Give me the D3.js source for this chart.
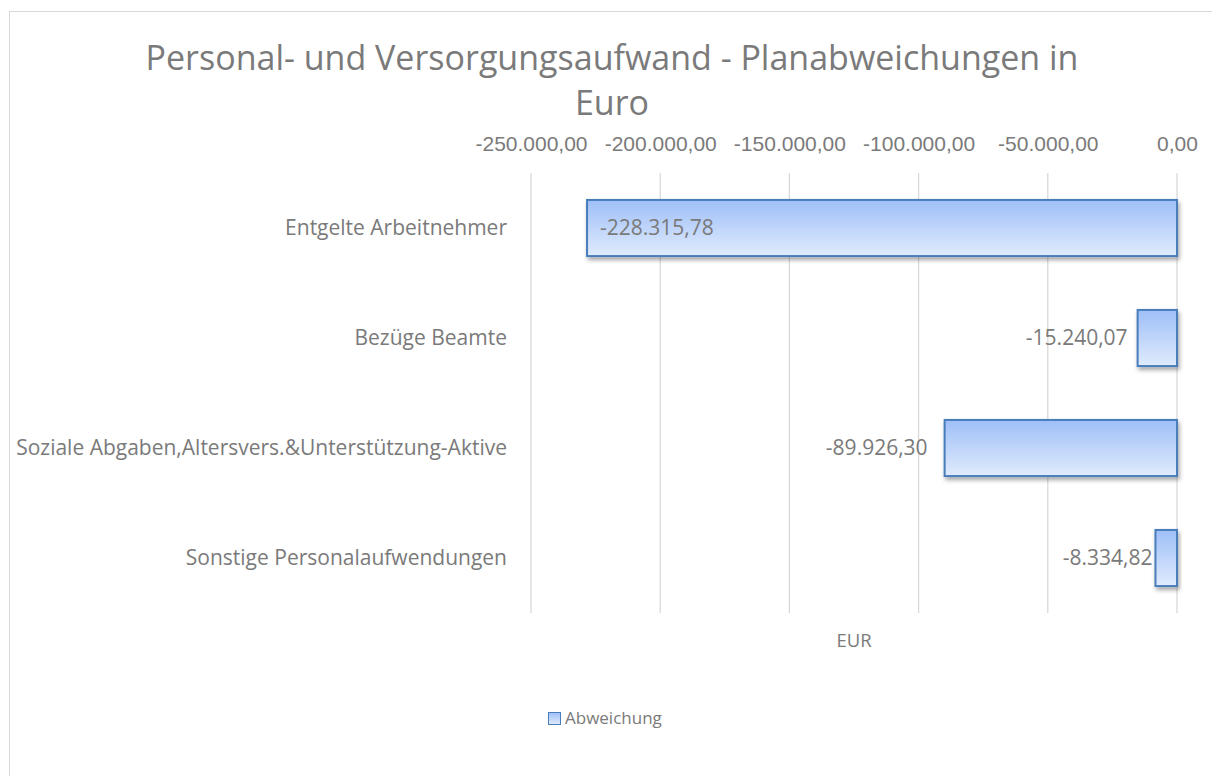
<!DOCTYPE html>
<html>
  <head>
    <meta charset="utf-8">
    <title>Personal- und Versorgungsaufwand</title>
    <style>
      body{ margin:0; background:#fff; }
      svg{ display:block; font-family: "Open Sans", Lato, sans-serif; }
    </style>
  </head>
  <body>
    <svg id="chart" width="1212" height="776"></svg>
  </body>
  <script src="https://d3js.org/d3.v7.min.js"></script>
  <script>
    var categories = [
      "Entgelte Arbeitnehmer",
      "Bezüge Beamte",
      "Soziale Abgaben,Altersvers.&Unterstützung-Aktive",
      "Sonstige Personalaufwendungen"
    ]
    var abweichung = [-228315.78, -15240.07, -89926.30, -8334.82]
    var tickValues = [-250000, -200000, -150000, -100000, -50000, 0]
    var seriesName = "Abweichung"
    var axisTitle = "EUR"
    var titleLines = ["Personal- und Versorgungsaufwand - Planabweichungen in", "Euro"]

    var fmt = d3.formatLocale({decimal: ",", thousands: ".", grouping: [3], currency: ["", " €"], minus: "-"}).format(",.2f")
    var grey = "#7a7a7a"

    var svg = d3.select("#chart")

    // chart frame
    svg.append("rect").attr("x", 9.5).attr("y", 11.5).attr("width", 1220).attr("height", 800)
      .attr("fill", "#fff").attr("stroke", "#d9d9d9").attr("stroke-width", 1)

    var defs = svg.append("defs")
    var grad = defs.append("linearGradient").attr("id", "barGrad")
      .attr("x1", 0).attr("y1", 0).attr("x2", 0).attr("y2", 1)
    grad.append("stop").attr("offset", "0%").attr("stop-color", "#9ebff8")
    grad.append("stop").attr("offset", "100%").attr("stop-color", "#e0ebfc")
    var shadow = defs.append("filter").attr("id", "shadow")
      .attr("x", "-20%").attr("y", "-20%").attr("width", "140%").attr("height", "160%")
    shadow.append("feDropShadow").attr("dx", 1.5).attr("dy", 3).attr("stdDeviation", 2)
      .attr("flood-color", "#000").attr("flood-opacity", 0.35)

    var x = d3.scaleLinear().domain([-250000, 0]).range([531, 1177])
    var y = d3.scaleBand().domain(categories).range([173, 613]).paddingInner(0.49).paddingOuter(0.245)

    // title
    svg.append("g").selectAll("text").data(titleLines).enter().append("text")
      .attr("x", 612).attr("y", function(d, i){ return 70 + i * 45 })
      .attr("text-anchor", "middle").attr("fill", grey).attr("font-size", 34)
      .text(function(d){ return d })

    // grid
    svg.append("g").selectAll("line").data(tickValues).enter().append("line")
      .attr("x1", function(d){ return x(d) }).attr("x2", function(d){ return x(d) })
      .attr("y1", 173).attr("y2", 613)
      .attr("stroke", "#d9d9d9").attr("stroke-width", 1.3)

    // top axis
    var axis = svg.append("g").attr("transform", "translate(0,151)")
      .call(d3.axisTop(x).tickValues(tickValues).tickFormat(fmt).tickSize(0).tickPadding(0))
    axis.select(".domain").remove()
    axis.selectAll("text").attr("fill", grey).attr("font-size", 21).attr("font-family", null)

    // category labels
    svg.append("g").selectAll("text").data(categories).enter().append("text")
      .attr("x", 507).attr("y", function(d){ return y(d) + y.bandwidth() / 2 })
      .attr("dy", "0.35em").attr("text-anchor", "end").attr("fill", grey).attr("font-size", 21)
      .text(function(d){ return d })

    // bars
    svg.append("g").selectAll("rect").data(abweichung).enter().append("rect")
      .attr("x", function(d){ return x(d) })
      .attr("y", function(d, i){ return y(categories[i]) })
      .attr("width", function(d){ return x(0) - x(d) })
      .attr("height", y.bandwidth())
      .attr("fill", "url(#barGrad)").attr("stroke", "#4a7ebb").attr("stroke-width", 2)
      .attr("filter", "url(#shadow)")

    // data labels
    var labelGap = [-13, 10, 17, 3]
    svg.append("g").selectAll("text").data(abweichung).enter().append("text")
      .attr("x", function(d, i){ return x(d) - labelGap[i] })
      .attr("y", function(d, i){ return y(categories[i]) + y.bandwidth() / 2 })
      .attr("dy", "0.35em")
      .attr("text-anchor", function(d, i){ return labelGap[i] < 0 ? "start" : "end" })
      .attr("fill", grey).attr("font-size", 21)
      .text(function(d){ return fmt(d) })

    // axis title
    svg.append("text").attr("x", 854).attr("y", 647).attr("text-anchor", "middle")
      .attr("fill", grey).attr("font-size", 18.5).text(axisTitle)

    // legend
    var legend = svg.append("g").attr("transform", "translate(548,712)")
    legend.append("rect").attr("x", 0.5).attr("y", 0.5).attr("width", 12).attr("height", 12)
      .attr("fill", "url(#barGrad)").attr("stroke", "#4a7ebb").attr("stroke-width", 1)
    legend.append("text").attr("x", 17).attr("y", 6.5).attr("dy", "0.35em")
      .attr("fill", grey).attr("font-size", 17).text(seriesName)
  </script>
</html>
